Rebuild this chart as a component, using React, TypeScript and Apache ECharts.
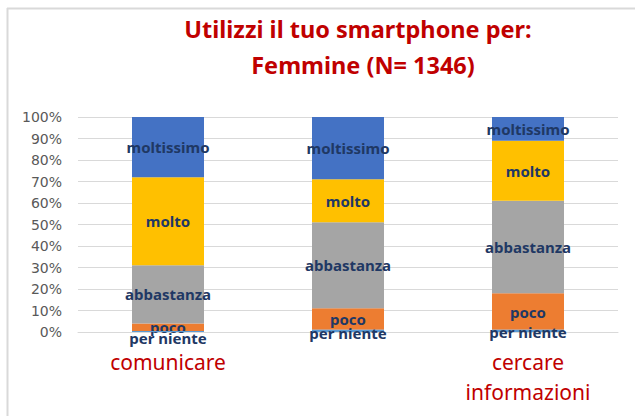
import React, { useEffect, useRef } from "react";
import * as echarts from "echarts";

const categories = ["comunicare", "passare il tempo", "cercare\ninformazioni"];
const seriesNames = ["per niente", "poco", "abbastanza", "molto", "moltissimo"];
const perNiente = [0.5, 1, 1];
const poco = [3.5, 10, 17];
const abbastanza = [27, 40, 43];
const molto = [41, 20, 28];
const moltissimo = [28, 29, 11];
const yTicks = [0, 10, 20, 30, 40, 50, 60, 70, 80, 90, 100];
const titleLine1 = "Utilizzi il tuo smartphone per:";
const titleLine2 = "Femmine (N= 1346)";

const colors = ["#5b9bd5", "#ed7d31", "#a5a5a5", "#ffc000", "#4472c4"];
const values = [perNiente, poco, abbastanza, molto, moltissimo];
const perNienteOffsets = [[0, 7], [0, 2], [0, 1]];

export default function App() {
  const ref = useRef<HTMLDivElement>(null);
  useEffect(() => {
    if (!ref.current) return;
    const chart = echarts.init(ref.current, null, { renderer: "svg" });
    const labelBase = {
      show: true,
      position: "inside",
      color: "#1f3864",
      fontFamily: "Noto Sans",
      fontWeight: "bold",
      fontSize: 15,
    };
    chart.setOption({
      animation: false,
      backgroundColor: "#ffffff",
      grid: { left: 78, right: 17, top: 117, bottom: 84, containLabel: false },
      graphic: [
        { type: "line", shape: { x1: 7, y1: 8.5, x2: 635, y2: 8.5 }, style: { stroke: "#d9d9d9", lineWidth: 2 } },
        { type: "line", shape: { x1: 7.5, y1: 8, x2: 7.5, y2: 416 }, style: { stroke: "#d9d9d9", lineWidth: 2 } },
        {
          type: "text", x: 358, y: 29,
          style: { text: titleLine1, fill: "#c00000", font: "bold 23.5px 'Noto Sans'", textAlign: "center", textVerticalAlign: "middle" },
        },
        {
          type: "text", x: 363, y: 65,
          style: { text: titleLine2, fill: "#c00000", font: "bold 23.5px 'Noto Sans'", textAlign: "center", textVerticalAlign: "middle" },
        },
      ],
      xAxis: {
        type: "category",
        data: categories,
        axisLine: { show: true, lineStyle: { color: "#d9d9d9" } },
        axisTick: { show: false },
        axisLabel: { color: "#c00000", fontSize: 21, fontFamily: "Noto Sans", lineHeight: 30, margin: 15 },
      },
      yAxis: {
        type: "value",
        min: 0,
        max: 100,
        interval: 10,
        axisLine: { show: false },
        axisTick: { show: false },
        splitLine: { lineStyle: { color: "#d9d9d9", width: 1 } },
        axisLabel: {
          color: "#595959", fontSize: 14, fontFamily: "DejaVu Sans", margin: 16,
          formatter: (v: number) => (yTicks.includes(v) ? v + "%" : ""),
        },
      },
      series: seriesNames.map((name, i) => ({
        name,
        type: "bar",
        stack: "total",
        barWidth: 72,
        z: i === 0 ? 3 : 2,
        data: values[i].map((v, j) =>
          i === 0
            ? { value: v, label: { ...labelBase, formatter: name, offset: perNienteOffsets[j] } }
            : v
        ),
        itemStyle: { color: colors[i] },
        label: { ...labelBase, formatter: name },
      })),
    });
    return () => chart.dispose();
  }, []);
  return <div ref={ref} style={{ position: "fixed", left: 0, top: 0, width: 635, height: 416 }} />;
}
